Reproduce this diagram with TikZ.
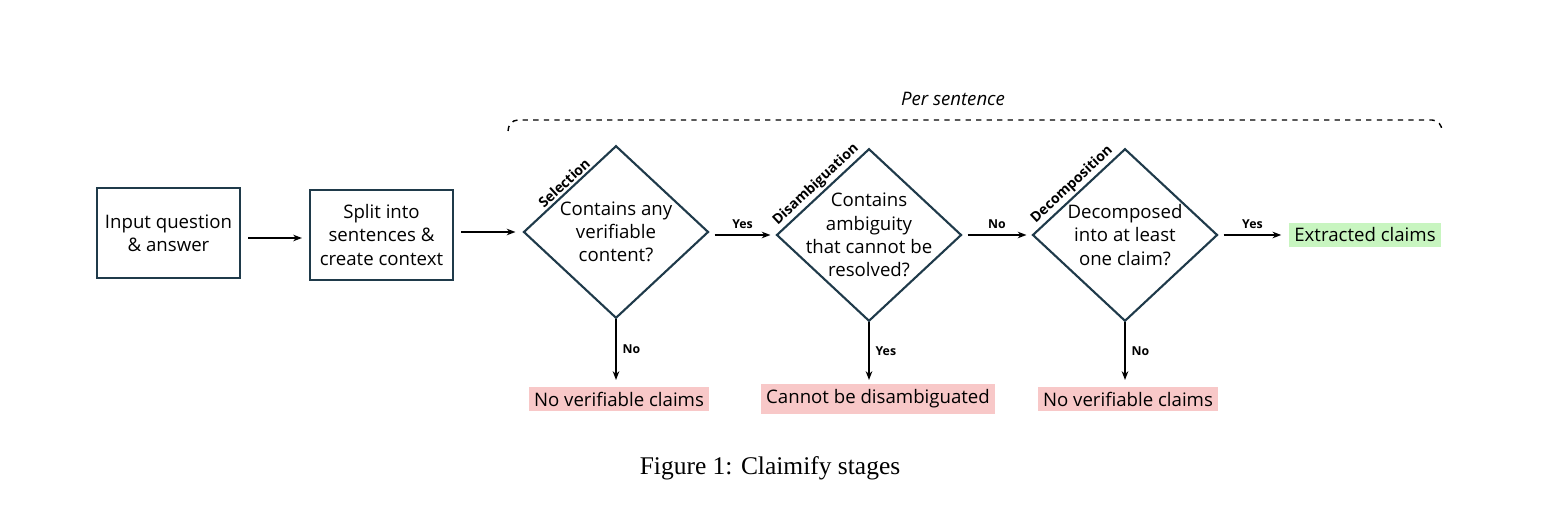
\documentclass[tikz,border=0pt]{standalone}
\usepackage{fontspec}
\setsansfont{Open Sans}
\setmainfont{Liberation Serif}
\usetikzlibrary{shapes.geometric,positioning,calc,arrows.meta}
\definecolor{edge}{HTML}{1F3A4A}
\definecolor{redbg}{HTML}{F8C8C8}
\definecolor{greenbg}{HTML}{C8F5C0}
\newcommand{\bodyfont}{\sffamily\fontsize{10.6}{13.2}\selectfont}
\tikzset{
  box/.style={draw=edge, line width=1.2pt, minimum width=2.86cm, minimum height=1.8cm, inner sep=2pt, align=center, font=\bodyfont},
  dec/.style={draw=edge, line width=1.2pt, diamond, minimum width=3.7cm, minimum height=3.45cm, inner sep=-12pt, align=center, font=\bodyfont},
  res/.style={inner sep=3pt, font=\bodyfont},
  arr/.style={-{Stealth[length=5pt]}, line width=0.9pt},
  lab/.style={font=\sffamily\scriptsize\bfseries},
  stage/.style={font=\sffamily\footnotesize\bfseries, rotate=43, anchor=south, inner sep=1pt}
}
\begin{document}
\begin{tikzpicture}
  \useasboundingbox (0,0) rectangle (30.84,10.28);
  % boxes
  \node[box] (input) at (3.37,5.62) {Input question\\\& answer};
  \node[box] (split) at (7.63,5.58) {Split into\\sentences \&\\create context};
  % decisions
  \node[dec] (sel) at (12.32,5.64) {Contains any\\verifiable\\content?};
  \node[dec] (dis) at (17.38,5.58) {Contains\\ambiguity\\that cannot be\\resolved?};
  \node[dec] (dec) at (22.5,5.58) {Decomposed\\into at least\\one claim?};
  \node[stage] at ($(sel.north)!0.5!(sel.west)$) {Selection};
  \node[stage] at ($(dis.north)!0.5!(dis.west)$) {Disambiguation};
  \node[stage] at ($(dec.north)!0.5!(dec.west)$) {Decomposition};
  % results
  \node[res, fill=greenbg] (out) at (27.3,5.58) {Extracted claims};
  \node[res, fill=redbg] (nv1) at (12.38,2.3) {No verifiable claims};
  \node[res, fill=redbg] (nd) at (17.56,2.3) {Cannot be disambiguated};
  \node[res, fill=redbg] (nv2) at (22.56,2.3) {No verifiable claims};
  % connectors
  \draw[arr] ([xshift=0.14cm]input.east |- 0,5.52) -- ([xshift=-0.14cm]split.west |- 0,5.52);
  \draw[arr] ([xshift=0.14cm]split.east |- sel.west) -- ([xshift=-0.14cm]sel.west);
  \draw[arr] ([xshift=0.1cm]sel.east |- dis.west) -- node[lab, above] {Yes} ([xshift=-0.1cm]dis.west);
  \draw[arr] ([xshift=0.1cm]dis.east) -- node[lab, above] {No} ([xshift=-0.1cm]dec.west);
  \draw[arr] ([xshift=0.1cm]dec.east) -- node[lab, above] {Yes} ([xshift=-0.15cm]out.west);
  \draw[arr] (sel.south) -- node[lab, right] {No} (sel.south |- 0,2.68);
  \draw[arr] (dis.south) -- node[lab, right] {Yes} (dis.south |- 0,2.68);
  \draw[arr] (dec.south) -- node[lab, right] {No} (dec.south |- 0,2.68);
  % per-sentence bracket
  \draw[dashed, line width=0.8pt] (10.16,7.66) to[out=90, in=180] (10.36,7.88) -- (28.64,7.88) to[out=0, in=90] (28.84,7.66);
  \node[font=\sffamily\fontsize{10.6}{13}\selectfont\itshape] at (19.06,8.3) {Per sentence};
  % caption
  \node[font=\fontsize{14.5}{17}\selectfont] at (15.4,0.92) {Figure 1: Claimify stages};
\end{tikzpicture}
\end{document}
